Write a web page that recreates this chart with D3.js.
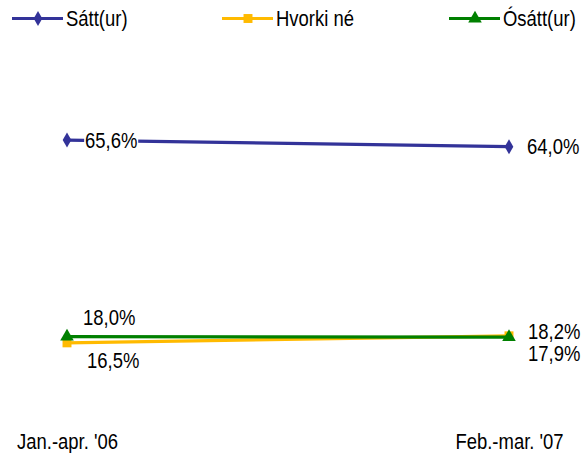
<!DOCTYPE html>
<html>
<head>
<meta charset="utf-8">
<script src="https://cdn.jsdelivr.net/npm/d3@7"></script>
<style>
html,body{margin:0;padding:0;background:#fff;}
text{font-family:"Liberation Sans","Arial",sans-serif;font-size:22px;fill:#000;}
</style>
</head>
<body>
<svg id="chart" width="582" height="453"></svg>
<script>
const categories = ["Jan.-apr. '06", "Feb.-mar. '07"];
const seriesNames = ["Sátt(ur)", "Hvorki né", "Ósátt(ur)"];
const satt = [65.6, 64.0];
const hvorki = [16.5, 18.2];
const osatt = [18.0, 17.9];
const colors = ["#333399", "#FFBA00", "#008000"];
const markerTypes = [d3.symbolDiamond, d3.symbolSquare, d3.symbolTriangle];
// label placement per series per point: [dx, dy]
const labelPos = [
  [[18, 0], [18, 0]],
  [[20, 17], [19, -5]],
  [[16, -19], [19, 16]]
];
const NARROW = 0.84;

const svg = d3.select("#chart");
const x = d3.scalePoint().domain(categories).range([67, 509]);
const y = d3.scaleLinear().domain([0, 100]).range([411, -2]);

const data = [satt, hvorki, osatt];
const fmt = v => d3.format(".1f")(v).replace(".", ",") + "%";

data.forEach((vals, si) => {
  const g = svg.append("g");
  const pts = vals.map((v, i) => ({c: categories[i], v, i}));
  g.append("path")
    .datum(pts)
    .attr("fill", "none")
    .attr("stroke", colors[si])
    .attr("stroke-width", 3.2)
    .attr("d", d3.line().x(d => x(d.c)).y(d => y(d.v)));
  g.selectAll("path.m").data(pts).enter().append("path")
    .attr("class", "m")
    .attr("transform", d => `translate(${x(d.c)},${y(d.v)})`)
    .attr("d", d3.symbol().type(markerTypes[si]).size(si === 0 ? 65 : 80))
    .attr("fill", colors[si]);
  pts.forEach(d => {
    const [dx, dy] = labelPos[si][d.i];
    const lg = g.append("g")
      .attr("transform", `translate(${x(d.c) + dx},${y(d.v) + dy}) scale(${NARROW},1)`);
    const t = lg.append("text")
      .attr("dy", "0.35em")
      .text(fmt(d.v));
    const bb = t.node().getBBox();
    lg.insert("rect", "text")
      .attr("x", bb.x - 1).attr("y", bb.y + 3)
      .attr("width", bb.width + 2).attr("height", bb.height - 4)
      .attr("fill", "#fff");
  });
});

// axis labels
const xAxis = d3.axisBottom(x).tickSize(0).tickPadding(0);
const ax = svg.append("g").attr("transform", "translate(0,441)").call(xAxis);
ax.select(".domain").remove();
ax.selectAll("text").attr("dy", "0.35em").attr("transform", `scale(${NARROW},1)`)
  .style("font-size", "22px")
  .style("font-family", '"Liberation Sans",Arial,sans-serif').attr("fill", "#000");

// legend
const legX = [12, 222, 449];
const leg = svg.append("g");
seriesNames.forEach((n, i) => {
  const gg = leg.append("g").attr("transform", `translate(${legX[i]},18.5)`);
  gg.append("line").attr("x1", 0).attr("x2", 51).attr("stroke", colors[i]).attr("stroke-width", 3.2);
  gg.append("path").attr("transform", "translate(26,0)")
    .attr("d", d3.symbol().type(markerTypes[i]).size(i === 0 ? 65 : 80))
    .attr("fill", colors[i]);
  gg.append("text").attr("transform", `translate(54,0) scale(${NARROW},1)`).attr("dy", "0.35em").text(n);
});
</script>
</body>
</html>
